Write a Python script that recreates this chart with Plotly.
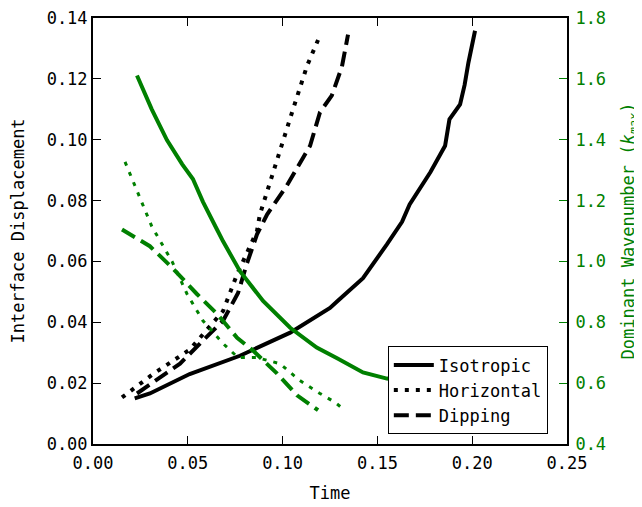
import plotly.graph_objects as go

# Interface displacement (left axis)
iso_t = [0.022, 0.030, 0.051, 0.0775, 0.104, 0.125, 0.129, 0.1424, 0.155, 0.163, 0.167, 0.178, 0.1857, 0.188, 0.1936, 0.196, 0.198, 0.200, 0.2015]
iso_d = [0.015, 0.0166, 0.023, 0.029, 0.0366, 0.0447, 0.047, 0.0545, 0.0656, 0.073, 0.0787, 0.0894, 0.098, 0.1067, 0.1116, 0.118, 0.1253, 0.131, 0.1358]

hor_t = [0.0153, 0.0317, 0.051, 0.0686, 0.076, 0.0865, 0.088, 0.097, 0.1055, 0.1129, 0.1187]
hor_d = [0.0153, 0.023, 0.031, 0.0437, 0.0558, 0.070, 0.0754, 0.0937, 0.110, 0.1243, 0.1328]

dip_t = [0.0232, 0.0459, 0.058, 0.0686, 0.0765, 0.081, 0.0865, 0.0918, 0.1023, 0.1145, 0.1197, 0.126, 0.1313, 0.1345]
dip_d = [0.0166, 0.0264, 0.034, 0.0405, 0.0496, 0.059, 0.0689, 0.0754, 0.085, 0.098, 0.109, 0.1146, 0.124, 0.1345]

# Dominant wavenumber (right axis)
iso_kt = [0.0232, 0.031, 0.039, 0.047, 0.0527, 0.058, 0.0654, 0.0686, 0.0775, 0.0897, 0.104, 0.118, 0.129, 0.134, 0.1424, 0.155, 0.170, 0.185]
iso_k = [1.611, 1.50, 1.399, 1.32, 1.271, 1.196, 1.105, 1.066, 0.968, 0.87, 0.782, 0.717, 0.681, 0.664, 0.635, 0.615, 0.605, 0.60]

hor_kt = [0.0169, 0.0248, 0.031, 0.0417, 0.0496, 0.058, 0.0686, 0.0765, 0.0865, 0.0986, 0.109, 0.1197, 0.1276, 0.131]
hor_k = [1.327, 1.206, 1.115, 1.0, 0.893, 0.805, 0.73, 0.684, 0.684, 0.664, 0.609, 0.566, 0.537, 0.52]

dip_kt = [0.0153, 0.030, 0.042, 0.0548, 0.0654, 0.076, 0.0844, 0.097, 0.1076, 0.1187]
dip_k = [1.105, 1.05, 0.978, 0.893, 0.828, 0.749, 0.707, 0.632, 0.56, 0.511]

x_ticks = [0.0, 0.05, 0.10, 0.15, 0.20, 0.25]
y_ticks = [0.0, 0.02, 0.04, 0.06, 0.08, 0.10, 0.12, 0.14]
y2_ticks = [0.4, 0.6, 0.8, 1.0, 1.2, 1.4, 1.6, 1.8]

GREEN = "#008000"
FONT = "DejaVu Sans Mono"
FS = 17

fig = go.Figure()
fig.add_trace(go.Scatter(x=iso_kt, y=iso_k, yaxis="y2", mode="lines", showlegend=False,
                         line=dict(color=GREEN, width=4)))
fig.add_trace(go.Scatter(x=hor_kt, y=hor_k, yaxis="y2", mode="lines", showlegend=False,
                         line=dict(color=GREEN, width=3, dash="4px,7px")))
fig.add_trace(go.Scatter(x=dip_kt, y=dip_k, yaxis="y2", mode="lines", showlegend=False,
                         line=dict(color=GREEN, width=4, dash="15px,7px")))
fig.add_trace(go.Scatter(x=iso_t, y=iso_d, mode="lines", name="Isotropic",
                         line=dict(color="black", width=4)))
fig.add_trace(go.Scatter(x=hor_t, y=hor_d, mode="lines", name="Horizontal",
                         line=dict(color="black", width=4, dash="4px,7px")))
fig.add_trace(go.Scatter(x=dip_t, y=dip_d, mode="lines", name="Dipping",
                         line=dict(color="black", width=4, dash="15px,7px")))

fig.update_layout(
    width=634, height=499,
    margin=dict(l=85, r=75, t=10, b=63, autoexpand=False),
    paper_bgcolor="white", plot_bgcolor="white",
    font=dict(family=FONT, size=FS, color="black"),
    xaxis=dict(range=[0, 0.25], tickvals=x_ticks, ticktext=[f"{v:.2f}" for v in x_ticks],
               ticks="inside", ticklen=8, tickcolor="black", mirror="ticks", automargin=False,
               ticklabelstandoff=3, ticklabeloverflow="allow",
               showline=True, linecolor="black", linewidth=2, showgrid=False, zeroline=False,
               title=dict(text="Time", font=dict(size=FS), standoff=15)),
    yaxis=dict(range=[0, 0.14], tickvals=y_ticks, ticktext=[f"{v:.2f}" for v in y_ticks],
               ticks="inside", ticklen=8, tickcolor="black", automargin=False,
               ticklabeloverflow="allow",
               showline=True, linecolor="black", linewidth=2, showgrid=False, zeroline=False,
               title=dict(text="Interface Displacement", font=dict(size=FS), standoff=26)),
    yaxis2=dict(range=[0.4, 1.8], tickvals=y2_ticks, ticktext=[f"{v:.1f}" for v in y2_ticks],
                overlaying="y", side="right", ticks="inside", ticklen=8, tickcolor=GREEN,
                tickfont=dict(color=GREEN), showline=True, linecolor="black", linewidth=2,
                showgrid=False, zeroline=False, automargin=False, ticklabelstandoff=3,
                ticklabeloverflow="allow",
                title=dict(text="Dominant Wavenumber (<i>k</i><sub><i>max</i></sub>)",
                           font=dict(size=FS, color=GREEN), standoff=17)),
    legend=dict(x=0.622, y=0.229, xanchor="left", yanchor="top",
                bgcolor="white", bordercolor="black", borderwidth=1,
                font=dict(family=FONT, size=FS), itemwidth=40, tracegroupgap=0),
)

fig.write_html("out.html")
